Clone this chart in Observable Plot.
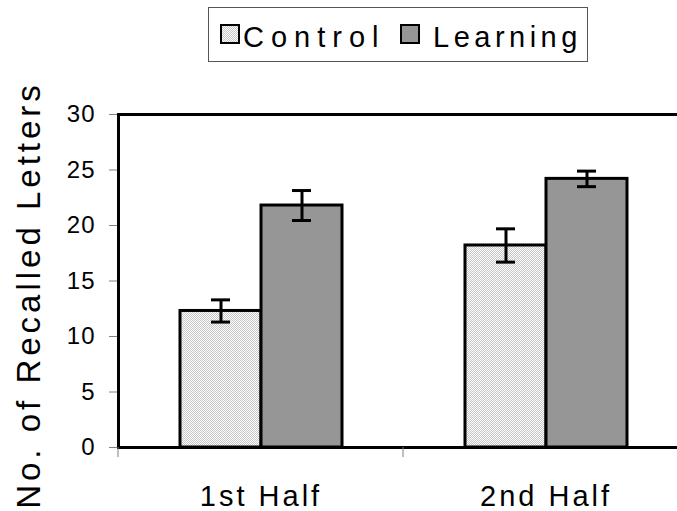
<!DOCTYPE html>
<html><head><meta charset="utf-8">
<script src="https://cdn.jsdelivr.net/npm/d3@7"></script>
<script src="https://cdn.jsdelivr.net/npm/@observablehq/plot@0.6"></script>
<style>
html,body{margin:0;padding:0;background:#fff;overflow:hidden;}
body{width:677px;height:511px;font-family:"Liberation Sans",Arial,sans-serif;}
#legend{position:relative;height:70px;width:677px;}
#legend .box{position:absolute;left:208px;top:7px;width:378px;height:53px;border:1px solid #555;}
#legend .sw{position:absolute;top:24px;width:16px;height:16px;border:2.5px solid #000;}
#legend .lab{position:absolute;top:22.5px;font-size:29px;line-height:29px;color:#000;white-space:nowrap;}
#chart svg{display:block;}
g[aria-label="y-axis tick label"] text{font-size:24px;letter-spacing:1px;}
g[aria-label="fx-axis tick label"] text{font-size:29px;letter-spacing:3px;}
</style>
</head><body>
<div id="legend"></div>
<div id="chart"></div>
<script>
const halves = ["1st Half", "2nd Half"];
const groups = ["Control", "Learning"];
const controlMeans = [12.3, 18.2];
const learningMeans = [21.8, 24.2];
const controlErrors = [1.0, 1.5];
const learningErrors = [1.35, 0.7];
const yTicks = [0, 5, 10, 15, 20, 25, 30];
const yLabel = "No. of Recalled Letters";
const groupFills = ["url(#dotFill)", "#969696"];

const rows = halves.flatMap((h, i) => [
  {half: h, group: groups[0], mean: controlMeans[i], err: controlErrors[i]},
  {half: h, group: groups[1], mean: learningMeans[i], err: learningErrors[i]}
]);

// Legend (HTML, above the SVG)
const legend = d3.select("#legend");
legend.append("div").attr("class", "box");
const swatchStyles = [
  "background:repeating-conic-gradient(#c4c4c4 0 25%, #fff 0 50%) 0 0/2px 2px;",
  "background:#969696;"
];
const swLeft = [220, 400], labLeft = [243, 433], labSpacing = [7, 4.5];
groups.forEach((g, i) => {
  legend.append("div").attr("class", "sw").attr("style", `left:${swLeft[i]}px;${swatchStyles[i]}`);
  legend.append("div").attr("class", "lab").style("left", labLeft[i] + "px")
    .style("letter-spacing", labSpacing[i] + "px").text(g);
});

function boundaryTicks(index, scales, values, dims) {
  const y0 = scales.y(0);
  const l = document.createElementNS("http://www.w3.org/2000/svg", "line");
  l.setAttribute("x1", dims.marginLeft);
  l.setAttribute("x2", dims.marginLeft);
  l.setAttribute("y1", y0);
  l.setAttribute("y2", y0 + 10);
  l.setAttribute("stroke", "#808080");
  return l;
}

const svg = Plot.plot({
  width: 677,
  height: 441,
  marginTop: 44,
  marginBottom: 64,
  marginLeft: 118,
  marginRight: -11,
  style: {fontFamily: '"Liberation Sans", Arial, sans-serif', fontSize: "24px", color: "#000", background: "#fff"},
  fx: {domain: halves, padding: 0, label: null},
  x: {domain: groups, paddingInner: 0, paddingOuter: 0.744, axis: null},
  y: {domain: [0, 30], axis: null},
  color: {domain: groups, range: groupFills},
  marks: [
    Plot.axisFx({anchor: "bottom", tickSize: 0, tickPadding: 38, label: null}),
    Plot.axisY({ticks: yTicks, tickSize: 9, tickPadding: 14, stroke: "#808080", fill: "#000", label: null}),
    Plot.text([yLabel], {frameAnchor: "left", textAnchor: "middle", lineAnchor: "middle", rotate: -90,
      dx: -89, dy: 14, facet: "super", fontSize: 33, fill: "#000"}),
    Plot.barY(rows, {fx: "half", x: "group", y: "mean", fill: "group", stroke: "#000", strokeWidth: 3}),
    Plot.ruleX(rows, {fx: "half", x: "group", y1: d => d.mean - d.err, y2: d => d.mean + d.err, stroke: "#000", strokeWidth: 3}),
    Plot.tickY(rows, {fx: "half", x: "group", y: d => d.mean + d.err, insetLeft: 31, insetRight: 31, stroke: "#000", strokeWidth: 3}),
    Plot.tickY(rows, {fx: "half", x: "group", y: d => d.mean - d.err, insetLeft: 31, insetRight: 31, stroke: "#000", strokeWidth: 3}),
    Plot.ruleY([0], {stroke: "#000", strokeWidth: 3}),
    Plot.ruleY([30], {stroke: "#000", strokeWidth: 3}),
    Plot.frame({anchor: "left", facet: "super", stroke: "#000", strokeWidth: 3}),
    boundaryTicks
  ]
});

const defs = d3.select(svg).insert("defs", ":first-child");
const pat = defs.append("pattern").attr("id", "dotFill").attr("width", 2).attr("height", 2).attr("patternUnits", "userSpaceOnUse");
pat.append("rect").attr("width", 2).attr("height", 2).attr("fill", "#fff");
pat.append("rect").attr("width", 1).attr("height", 1).attr("fill", "#c4c4c4");
pat.append("rect").attr("x", 1).attr("y", 1).attr("width", 1).attr("height", 1).attr("fill", "#c4c4c4");

d3.select(svg).selectAll("text").filter(function () { return this.textContent === yLabel; })
  .style("letter-spacing", "4px");

document.getElementById("chart").appendChild(svg);
</script>
</body></html>
